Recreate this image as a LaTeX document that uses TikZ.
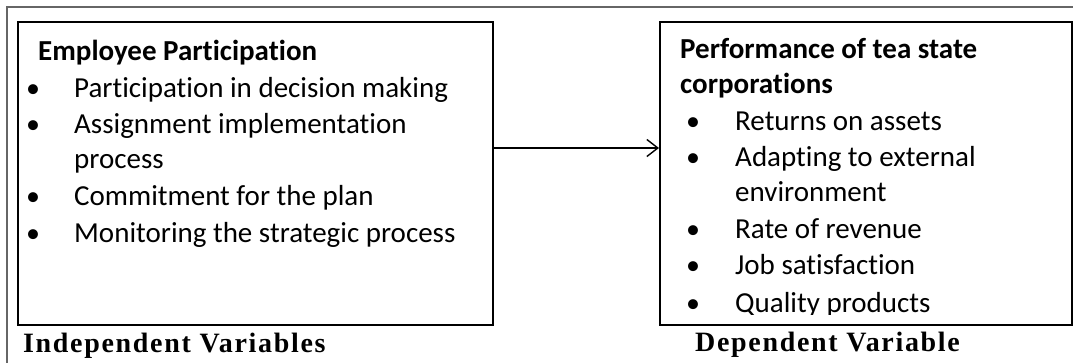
\documentclass[tikz,border=0pt]{standalone}
\usepackage{fontspec}
\setmainfont{Carlito}[Ligatures=NoCommon]
\newfontfamily\tnr{Liberation Serif}[LetterSpace=6]
\usetikzlibrary{arrows.meta}
\tikzset{
  varbox/.style={draw=black, line width=2pt, minimum width=#1, minimum height=303pt, inner sep=0pt, anchor=north west},
  txt/.style={anchor=base west, inner sep=0pt, font=\fontsize{29pt}{31pt}\selectfont},
  headtxt/.style={txt, font=\fontsize{29pt}{31pt}\selectfont\bfseries},
  bul/.style={anchor=base, inner sep=0pt, font=\fontsize{28pt}{30pt}\selectfont},
  captext/.style={anchor=base west, inner sep=0pt, font=\tnr\bfseries\fontsize{28pt}{31pt}\selectfont},
  outerframe/.style={draw=black!60, line width=1.5pt},
  link/.style={draw=black, line width=1.4pt, -{Straight Barb[length=11pt, width=17pt, line width=1.4pt]}}
}
\begin{document}
\begin{tikzpicture}[x=1pt, y=-1pt]
\useasboundingbox (0,0) rectangle (1073,362);
\fill[white] (0,0) rectangle (1073,362);
% outer frame
\coordinate (ftl) at (7,7);
\coordinate (ftr) at (1075,7);
\coordinate (fbl) at (7,364);
\draw[outerframe] (fbl) -- (ftl) -- (ftr);
% boxes
\node[varbox=475pt] (L) at (17,21) {};
\node[varbox=412pt] (R) at (659,21) {};
% left content
\node[headtxt] (lh) at (38,60) {Employee Participation};
\node[bul] (lb1) at (33,97) {•};
\node[txt] (l1) at (74,97) {Participation in decision making};
\node[bul] (lb2) at (33,133) {•};
\node[txt] (l2) at (74,133) {Assignment implementation};
\node[txt] (l2b) at (74,168) {process};
\node[bul] (lb3) at (33,205) {•};
\node[txt] (l3) at (74,205) {Commitment for the plan};
\node[bul] (lb4) at (33,242) {•};
\node[txt] (l4) at (74,242) {Monitoring the strategic process};
% right content
\begin{scope}
\clip (660,22) rectangle (1070,314);
\node[headtxt] (rh) at (680,58) {Performance of tea state};
\node[headtxt] (rh2) at (680,93) {corporations};
\node[bul] (rb1) at (693,130) {•};
\node[txt] (r1) at (735,130) {Returns on assets};
\node[bul] (rb2) at (693,166) {•};
\node[txt] (r2) at (735,166) {Adapting to external};
\node[txt] (r2b) at (735,201) {environment};
\node[bul] (rb3) at (693,238) {•};
\node[txt] (r3) at (735,238) {Rate of revenue};
\node[bul] (rb4) at (693,274) {•};
\node[txt] (r4) at (735,274) {Job satisfaction};
\node[bul] (rb5) at (693,312) {•};
\node[txt] (r5) at (735,312) {Quality products};
\end{scope}
% captions
\node[captext] (ci) at (23,352) {Independent Variables};
\node[captext] (cd) at (695,351) {Dependent Variable};
% arrow
\draw[link] (L.east |- 0,148) -- (R.west |- 0,148);
\end{tikzpicture}
\end{document}
